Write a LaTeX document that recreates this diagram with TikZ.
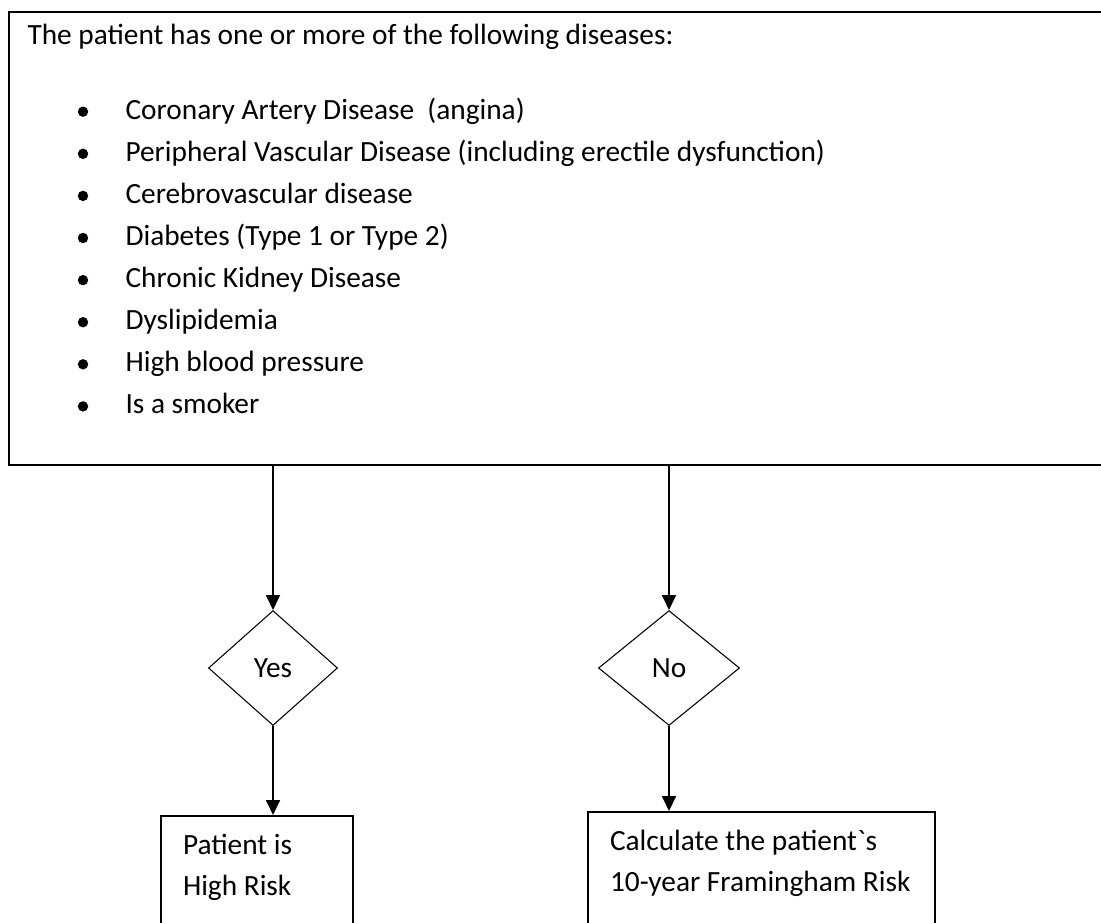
\documentclass[tikz,border=0pt]{standalone}
\usepackage{fontspec}
\setmainfont{Carlito}[Ligatures=TeXOff]
\usetikzlibrary{arrows.meta,positioning,shapes.geometric,calc}

\begin{document}
\begin{tikzpicture}[
    x=0.375pt, y=-0.375pt,
    font=\fontsize{11}{15.4}\selectfont,
    frame/.style={draw, line width=0.75pt, inner sep=0pt},
    txt/.style={inner sep=0pt, anchor=base west},
    dot/.style={circle, fill, inner sep=0pt, minimum size=3.9pt},
    choice/.style={diamond, draw, line width=0.4pt, inner sep=0pt,
                   minimum height=43.1pt, minimum width=#1},
    outcome/.style={draw, line width=0.75pt, anchor=north west,
                    align=flush left, inner xsep=8.25pt, inner ysep=0pt,
                    text height=14.5pt, text depth=40pt, text width=#1},
    arr/.style={-{Triangle[length=5.6pt, width=5.2pt]}, line width=0.75pt}
  ]
    \path[use as bounding box] (0,0) rectangle (1101,922);
    \clip (0,0) rectangle (1101,922);

    % Conditions
    \node[frame, anchor=north west, minimum width=417pt,
          minimum height=169.9pt] (cond) at (8,11) {};
    \node[txt] (head) at (27,44)
      {The patient has one or more of the following diseases:};
    \foreach \txt [count=\i from 0] in {Coronary Artery Disease\ \ (angina),
        Peripheral Vascular Disease (including erectile dysfunction),
        Cerebrovascular disease, Diabetes (Type 1 or Type 2),
        Chronic Kidney Disease, Dyslipidemia, High blood pressure,
        Is a smoker} {
      \node[dot] (b\i) at (83,{111.7+42.1*\i}) {};
      \node[txt] (d\i) at (125,{119+42.1*\i}) {\txt};
    }

    % Decisions
    \node[choice=48.4pt] (yes) at (273,668) {Yes};
    \node[choice=52.9pt] (no)  at (669,668) {No};

    % Outcomes
    \node[outcome=55.5pt]  (high) at (160,815) {Patient is\\High Risk};
    \node[outcome=113.5pt] (calc) at (587,811)
      {Calculate the patient`s\\10-year Framingham Risk};

    \foreach \d in {yes, no}
      \draw[arr] (cond.south -| \d.north) -- (\d.north);
    \foreach \d/\o in {yes/high, no/calc}
      \draw[arr] (\d.south) -- (\d.south |- \o.north);
  \end{tikzpicture}
\end{document}
